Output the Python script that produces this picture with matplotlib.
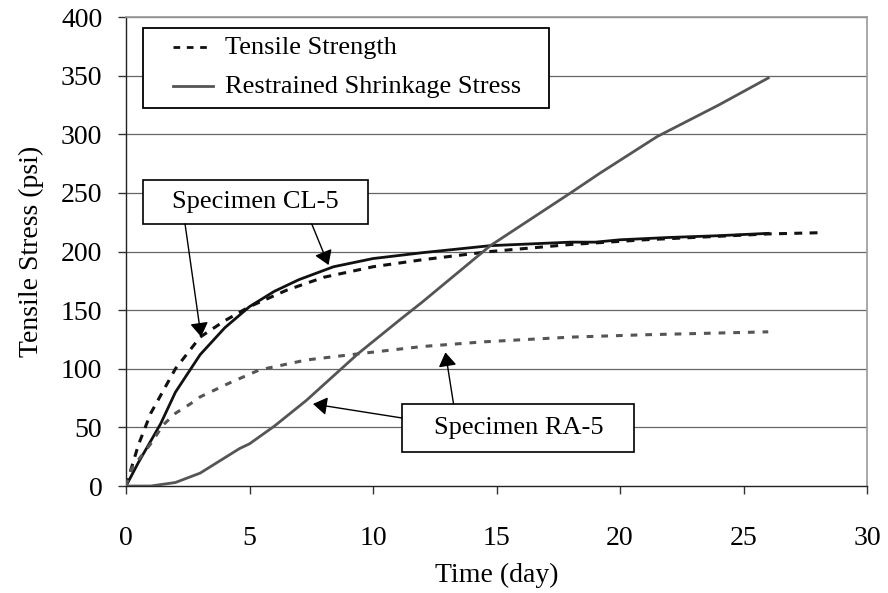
import numpy as np
import matplotlib
matplotlib.use('Agg')
import matplotlib.pyplot as plt

plt.rcParams['font.family'] = ['Liberation Serif', 'DejaVu Serif']

# Specimen CL-5 (black curves)
cl5_strength_t = [0, 0.5, 1, 2, 3, 4, 5, 6.5, 8, 10, 12, 14.75, 18, 21, 24, 26, 28]
cl5_strength = [0, 35, 62, 100, 127, 141, 153, 167, 178, 187, 193, 200, 206, 210, 213, 215, 216]
cl5_stress_t = [0, 0.5, 1.4, 2, 3, 4, 5, 6, 7, 8.4, 10, 12, 14.75, 18, 19, 20, 22, 24, 26]
cl5_stress = [0, 20, 53, 80, 112, 135, 153, 166, 176, 187, 194, 199, 205, 208, 208, 210, 212, 213.5, 215.5]

# Specimen RA-5 (gray curves)
ra5_strength_t = [0, 0.2, 1, 1.5, 2, 2.6, 3, 4.2, 5.4, 7.3, 9.5, 12, 14.5, 18, 21, 24, 26]
ra5_strength = [0, 14, 36, 52, 62, 70, 76, 88, 99, 107.5, 113, 119, 123, 127, 129, 130.5, 131.5]
ra5_stress_t = [0, 1, 2, 3, 4.6, 5, 6, 7.3, 9.4, 11.1, 12, 14.75, 18, 19.2, 21.5, 24, 26]
ra5_stress = [0, 0, 3, 11, 32, 36, 51, 73, 113, 142, 157, 205, 250, 267, 298, 325, 348]

x_ticks = [0, 5, 10, 15, 20, 25, 30]
y_ticks = [0, 50, 100, 150, 200, 250, 300, 350, 400]
legend_labels = ['Tensile Strength', 'Restrained Shrinkage Stress']

black = '#111111'
gray = '#555555'
fs = 20
fs_box = 19

fig = plt.figure(figsize=(8.88, 5.93), dpi=100)
ax = fig.add_axes([0.1419, 0.1804, 0.8345, 0.7909])

for yv in y_ticks[1:]:
    ax.axhline(yv, color='#666666', lw=0.9, zorder=1)

ax.plot(cl5_strength_t, cl5_strength, color=black, lw=2.2, dashes=(2.6, 2.4), zorder=3)
ax.plot(cl5_stress_t, cl5_stress, color=black, lw=2.0, zorder=3)
ax.plot(ra5_strength_t, ra5_strength, color=gray, lw=2.2, dashes=(2.2, 2.6), zorder=3)
ax.plot(ra5_stress_t, ra5_stress, color=gray, lw=2.0, zorder=3)

ax.set_xlim(0, 30)
ax.set_ylim(0, 400)
ax.set_xticks(x_ticks)
ax.set_yticks(y_ticks)
ax.tick_params(axis='both', labelsize=fs, length=6, width=1, direction='out', color='#333333')
ax.tick_params(axis='y', pad=11)
ax.tick_params(axis='x', pad=23)
for s in ['left', 'bottom']:
    ax.spines[s].set_color('#222222')
    ax.spines[s].set_linewidth(1.0)
for s in ['top', 'right']:
    ax.spines[s].set_color('#999999')
    ax.spines[s].set_linewidth(1.2)

ax.set_xlabel('Time (day)', fontsize=fs, labelpad=8)
ax.set_ylabel('Tensile Stress (psi)', fontsize=fs, labelpad=12)

# legend box drawn by hand (Excel-style spacing)
ax.add_patch(plt.Rectangle((0.69, 322.4), 16.44, 68.2, fc='white', ec='black', lw=1.3, zorder=6))
ax.plot([1.9, 3.52], [374.4, 374.4], color=black, lw=2.0, dashes=(2.4, 2.4), zorder=7)
ax.plot([1.9, 3.52], [341.2, 341.2], color=gray, lw=2.0, zorder=7)
ax.text(4.0, 373.8, legend_labels[0], ha='left', va='center', fontsize=fs_box, zorder=7)
ax.text(4.0, 340.6, legend_labels[1], ha='left', va='center', fontsize=fs_box, zorder=7)

arrow = dict(arrowstyle='-|>,head_length=0.85,head_width=0.55', color='black', lw=1.0,
             shrinkA=0, shrinkB=0)

# CL-5 label box with arrows
ax.add_patch(plt.Rectangle((0.69, 223.5), 9.11, 37.5, fc='white', ec='black', lw=1.2, zorder=6))
ax.text(5.25, 242.2, 'Specimen CL-5', ha='center', va='center', fontsize=fs_box, zorder=7)
ax.annotate('', xy=(3.04, 127.3), xytext=(2.39, 223.5), arrowprops=arrow, zorder=6)
ax.annotate('', xy=(8.2, 188.5), xytext=(7.52, 223.5), arrowprops=arrow, zorder=6)

# RA-5 label box with arrows
ax.add_patch(plt.Rectangle((11.18, 29), 9.4, 41, fc='white', ec='black', lw=1.2, zorder=6))
ax.text(15.88, 49.5, 'Specimen RA-5', ha='center', va='center', fontsize=fs_box, zorder=7)
ax.annotate('', xy=(12.93, 114), xytext=(13.26, 70), arrowprops=arrow, zorder=6)
ax.annotate('', xy=(7.57, 70), xytext=(11.18, 58), arrowprops=arrow, zorder=6)

fig.savefig('out.png', dpi=100)
